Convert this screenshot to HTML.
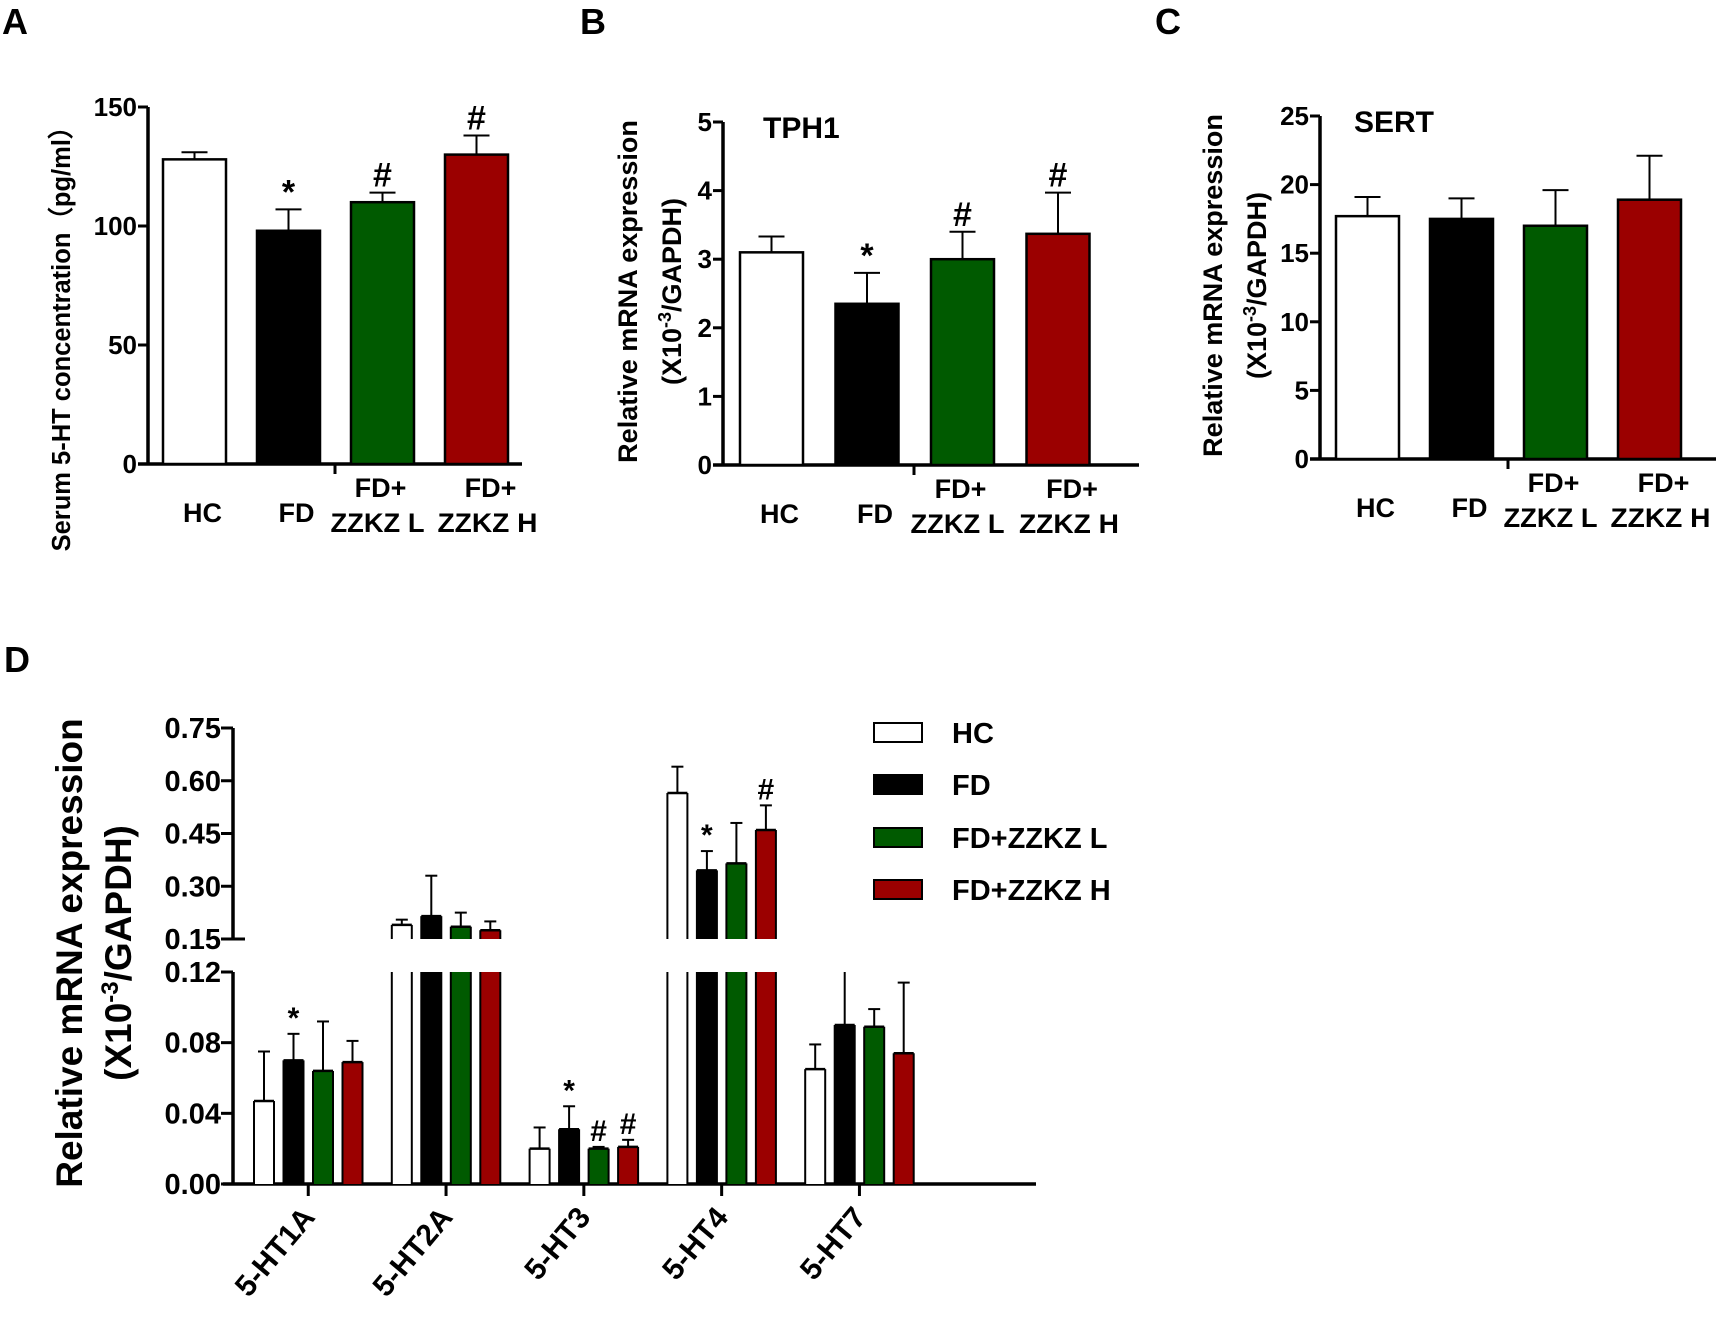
<!DOCTYPE html>
<html><head><meta charset="utf-8"><style>
html,body{margin:0;padding:0;background:#fff;}
svg{display:block;font-family:"Liberation Sans",Arial,sans-serif;font-weight:bold;}
</style></head><body>
<svg id="fig" width="1733" height="1339" viewBox="0 0 1733 1339">
<text x="2" y="34" font-size="36">A</text>
<text x="580" y="34" font-size="36">B</text>
<text x="1155" y="34" font-size="36">C</text>
<text x="4" y="672" font-size="36">D</text>
<g id="gA"></g>
<g id="gB"></g>
<g id="gC"></g>
<g id="gD"></g>
</svg>
<script>
const groupColors = ["#ffffff","#000000","#005a00","#9b0000"];
const groupNames = ["HC","FD","FD+ZZKZ L","FD+ZZKZ H"];
// Panel A
const aValues = [128, 98, 110, 130];
const aErrors = [131, 107, 114, 138];
const aTicks = [0, 50, 100, 150];
const aMarks = ["", "*", "#", "#"];
// Panel B
const bValues = [3.1, 2.35, 3.0, 3.37];
const bErrors = [3.33, 2.8, 3.4, 3.97];
const bTicks = [0, 1, 2, 3, 4, 5];
const bMarks = ["", "*", "#", "#"];
// Panel C
const cValues = [17.7, 17.5, 17.0, 18.9];
const cErrors = [19.1, 19.0, 19.6, 22.1];
const cTicks = [0, 5, 10, 15, 20, 25];
const cMarks = ["", "", "", ""];
// Panel D
const dCategories = ["5-HT1A","5-HT2A","5-HT3","5-HT4","5-HT7"];
const dHC = [0.047, 0.19, 0.020, 0.565, 0.065];
const dFD = [0.070, 0.215, 0.031, 0.345, 0.090];
const dL  = [0.064, 0.185, 0.020, 0.365, 0.089];
const dH  = [0.069, 0.175, 0.021, 0.46, 0.074];
const dHCerr = [0.075, 0.205, 0.032, 0.64, 0.079];
const dFDerr = [0.085, 0.33, 0.044, 0.40, 0.13];
const dLerr  = [0.092, 0.225, 0.021, 0.48, 0.099];
const dHerr  = [0.081, 0.20, 0.025, 0.53, 0.114];
const dMarksFD = ["*","","*","*",""];
const dMarksL  = ["","","#","",""];
const dMarksH  = ["","","#","#",""];
const dTicksLow = ["0.00","0.04","0.08","0.12"];
const dTicksHigh = ["0.15","0.30","0.45","0.60","0.75"];

const NS="http://www.w3.org/2000/svg";
function mk(tag, attrs, parent, txt){
  const e=document.createElementNS(NS,tag);
  for(const k in attrs) e.setAttribute(k,attrs[k]);
  if(txt!==undefined) e.textContent=txt;
  parent.appendChild(e); return e;
}

function simplePanel(g, cfg, vals, errs, ticks, marks, pfx){
  const y = v => cfg.y0 - (v/cfg.max)*(cfg.y0-cfg.yTop);
  let e;
  e=mk('line',{x1:cfg.ax,y1:cfg.yTop,x2:cfg.ax,y2:cfg.y0,stroke:'#000','stroke-width':3.5},g);
   
  e=mk('line',{x1:cfg.ax-10,y1:cfg.y0,x2:cfg.xEnd,y2:cfg.y0,stroke:'#000','stroke-width':3.5},g);
   
  mk('line',{x1:cfg.midTick,y1:cfg.y0,x2:cfg.midTick,y2:cfg.y0+10,stroke:'#000','stroke-width':3},g);
  ticks.forEach(t=>{
    mk('line',{x1:cfg.ax-10,y1:y(t),x2:cfg.ax,y2:y(t),stroke:'#000','stroke-width':3},g);
    e=mk('text',{x:cfg.ax-11,y:y(t)+9,'font-size':26,'text-anchor':'end'},g,String(t));
     
  });
  vals.forEach((v,i)=>{
    const x=cfg.bx+i*cfg.step, cx=x+cfg.bw/2;
    mk('line',{x1:cx,y1:y(errs[i]),x2:cx,y2:y(v),stroke:'#000','stroke-width':2},g);
    mk('line',{x1:cx-13,y1:y(errs[i]),x2:cx+13,y2:y(errs[i]),stroke:'#000','stroke-width':2},g);
    e=mk('rect',{x:x,y:y(v),width:cfg.bw,height:cfg.y0-y(v),fill:groupColors[i],stroke:'#000','stroke-width':2.5},g);
     
    if(marks[i]){
      e=mk('text',{x:cx,y:y(errs[i])-6,'font-size':34,'text-anchor':'middle'},g,marks[i]);
       
    }
  });
  const ly=cfg.y0;
  const lbl=[["HC",null],["FD",null],["FD+","ZZKZ L"],["FD+","ZZKZ H"]];
  const offs=[8,8,-5,11];
  lbl.forEach((l,i)=>{
    const cx=cfg.bx+i*cfg.step+cfg.bw/2+offs[i];
    if(l[1]===null){
      e=mk('text',{x:cx,y:ly+58,'font-size':27,'text-anchor':'middle'},g,l[0]);
       
    } else {
      e=mk('text',{x:cx+3,y:ly+33,'font-size':27,'text-anchor':'middle'},g,l[0]);
       
      e=mk('text',{x:cx,y:ly+68,'font-size':27,'text-anchor':'middle',textLength:(i===2?94:100),lengthAdjust:'spacingAndGlyphs'},g,l[1]);
       
    }
  });
  const my=(cfg.yTop+cfg.y0)/2+cfg.titleDy;
  if(cfg.title2){
    e=mk('text',{transform:`translate(${cfg.tx1},${my}) rotate(-90)`,'font-size':27,'text-anchor':'middle'},g,cfg.title1);
     
    e=mk('text',{transform:`translate(${cfg.tx2},${my}) rotate(-90)`,'font-size':27,'text-anchor':'middle'},g);
     
    mk('tspan',{},e,'(X10');mk('tspan',{dy:-10,'font-size':18},e,'-3');mk('tspan',{dy:10},e,'/GAPDH)');
  } else {
    e=mk('text',{transform:`translate(${cfg.tx1},${my}) rotate(-90)`,'font-size':25.5,'text-anchor':'middle'},g,cfg.title1);
     
  }
  if(cfg.name){
    e=mk('text',{x:cfg.nameX,y:cfg.yTop+16,'font-size':30},g,cfg.name);
     
  }
}

simplePanel(document.getElementById('gA'),
 {ax:148,y0:464,yTop:107,max:150,xEnd:522,bx:163,bw:63,step:94,midTick:335,tx1:70,titleDy:47,title1:"Serum 5-HT concentration（pg/ml）"},
 aValues,aErrors,aTicks,aMarks,'a');
simplePanel(document.getElementById('gB'),
 {ax:723,y0:465,yTop:122,max:5,xEnd:1139,bx:740,bw:63,step:95.5,midTick:914,tx1:637,tx2:681,titleDy:-2,title1:"Relative mRNA expression",title2:true,name:"TPH1",nameX:763},
 bValues,bErrors,bTicks,bMarks,'b');
simplePanel(document.getElementById('gC'),
 {ax:1320,y0:459,yTop:116,max:25,xEnd:1716,bx:1336,bw:63,step:94,midTick:1508,tx1:1222,tx2:1266,titleDy:-2,title1:"Relative mRNA expression",title2:true,name:"SERT",nameX:1354},
 cValues,cErrors,cTicks,cMarks,'c');

// Panel D
(function(){
  const g=document.getElementById('gD');
  const ax=233, y0=1184, y12=972, y15=939, y75=728;
  const yLow=v=>y0-(v/0.12)*(y0-y12);
  const yHigh=v=>y15-((v-0.15)/0.6)*(y15-y75);
  let e;
  e=mk('line',{x1:ax,y1:y75,x2:ax,y2:y15,stroke:'#000','stroke-width':3.5},g);
   
  e=mk('line',{x1:ax,y1:y12,x2:ax,y2:y0,stroke:'#000','stroke-width':3.5},g);
   
  e=mk('line',{x1:ax-10,y1:y0,x2:1036,y2:y0,stroke:'#000','stroke-width':3.5},g);
   
  dTicksLow.forEach(t=>{
    const yy=yLow(parseFloat(t));
    mk('line',{x1:ax-12,y1:yy,x2:ax,y2:yy,stroke:'#000','stroke-width':3},g);
    e=mk('text',{x:ax-12,y:yy+10,'font-size':29,'text-anchor':'end'},g,t);
     
  });
  dTicksHigh.forEach(t=>{
    const yy=yHigh(parseFloat(t));
    mk('line',{x1:ax-12,y1:yy,x2:ax+(t==="0.15"?12:0),y2:yy,stroke:'#000','stroke-width':3},g);
    e=mk('text',{x:ax-12,y:yy+10,'font-size':29,'text-anchor':'end'},g,t);
     
  });
  const series=[dHC,dFD,dL,dH], errs=[dHCerr,dFDerr,dLerr,dHerr], marks=[null,dMarksFD,dMarksL,dMarksH];
  const bw=20, step=29.5, gstep=137.8, g0=254;
  dCategories.forEach((cat,ci)=>{
    const gx=g0+ci*gstep, center=gx+1.5*step+bw/2;
    mk('line',{x1:center,y1:y0,x2:center,y2:y0+12,stroke:'#000','stroke-width':3},g);
    e=mk('text',{transform:`translate(${center+8},${y0+34}) rotate(-50)`,'font-size':30,'text-anchor':'end'},g,cat);
     
    series.forEach((s,si)=>{
      const v=s[ci], er=errs[si][ci], x=gx+si*step, cx=x+bw/2;
      const drawSeg=(top,bot,openTop)=>{
        e=mk('rect',{x:x,y:top,width:bw,height:bot-top,fill:groupColors[si],stroke:'none'},g);
         
        mk('line',{x1:x,y1:top,x2:x,y2:bot,stroke:'#000','stroke-width':2},g);
        mk('line',{x1:x+bw,y1:top,x2:x+bw,y2:bot,stroke:'#000','stroke-width':2},g);
        if(!openTop) mk('line',{x1:x,y1:top,x2:x+bw,y2:top,stroke:'#000','stroke-width':2.5},g);
      };
      let ye, yv;
      if(v>0.12){
        yv=yHigh(v); ye=yHigh(er);
        mk('line',{x1:cx,y1:ye,x2:cx,y2:yv,stroke:'#000','stroke-width':2},g);
        mk('line',{x1:cx-6,y1:ye,x2:cx+6,y2:ye,stroke:'#000','stroke-width':2},g);
        drawSeg(yv,y15,false);
        drawSeg(y12,y0,true);
      } else {
        yv=yLow(v); ye=er>0.12?y12:yLow(er);
        mk('line',{x1:cx,y1:ye,x2:cx,y2:yv,stroke:'#000','stroke-width':2},g);
        if(er<=0.12) mk('line',{x1:cx-6,y1:ye,x2:cx+6,y2:ye,stroke:'#000','stroke-width':2},g);
        drawSeg(yv,y0,false);
      }
      if(marks[si] && marks[si][ci]){
        e=mk('text',{x:cx,y:ye-6,'font-size':30,'text-anchor':'middle'},g,marks[si][ci]);
         
      }
    });
  });
  e=mk('text',{transform:'translate(82,953) rotate(-90)','font-size':37,'text-anchor':'middle'},g,'Relative mRNA expression');
   
  e=mk('text',{transform:'translate(131,953) rotate(-90)','font-size':37,'text-anchor':'middle'},g);
   
  mk('tspan',{},e,'(X10');mk('tspan',{dy:-13,'font-size':24},e,'-3');mk('tspan',{dy:13},e,'/GAPDH)');
  const ly=[732,784,837,889];
  groupNames.forEach((n,i)=>{
    const lg=mk('g',{},g);
    
    
    mk('rect',{x:874,y:ly[i]-9,width:48,height:19,fill:groupColors[i],stroke:'#000','stroke-width':2},lg);
    mk('text',{x:952,y:ly[i]+11,'font-size':29},lg,n);
  });
})();
</script>
</body></html>
